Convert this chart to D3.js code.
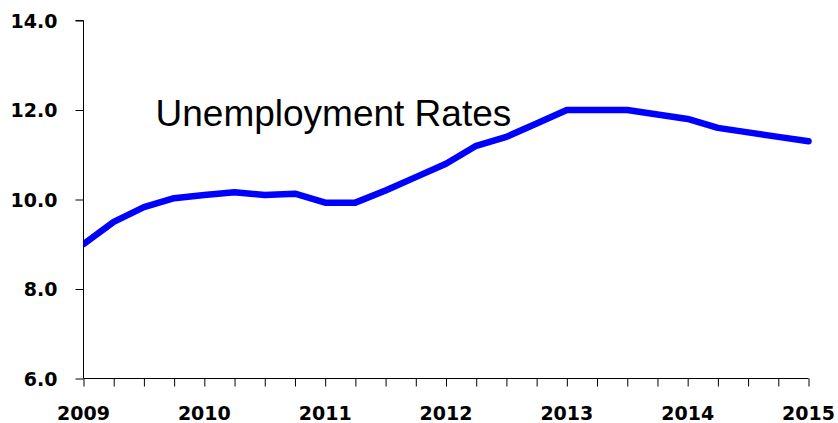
<!DOCTYPE html>
<html><head><meta charset="utf-8">
<script src="https://cdn.jsdelivr.net/npm/d3@7"></script>
<style>html,body{margin:0;padding:0;background:#fff;}svg{display:block;}</style>
</head><body>
<script>
const title = "Unemployment Rates";
const quarters = d3.range(25).map(i => 2009 + i / 4);
const rates = [9.0, 9.5, 9.83, 10.03, 10.1, 10.16, 10.1, 10.13, 9.93, 9.93, 10.2, 10.5,
               10.8, 11.2, 11.4, 11.7, 12.0, 12.0, 12.0, 11.9, 11.8, 11.6, 11.5, 11.4, 11.3];
const yTicks = [6, 8, 10, 12, 14];
const xYears = [2009, 2010, 2011, 2012, 2013, 2014, 2015];

const W = 838, H = 423;
const svg = d3.select("body").append("svg").attr("width", W).attr("height", H);
const x = d3.scaleLinear().domain([2009, 2015]).range([83.5, 808.5]);
const y = d3.scaleLinear().domain([6, 14]).range([378.5, 20.5]);

const lblFont = "'DejaVu Sans', sans-serif";

svg.append("defs").append("clipPath").attr("id", "clipL")
  .append("rect").attr("x", x(2009)).attr("y", 0).attr("width", W).attr("height", H);

// Y axis
const yAxis = svg.append("g").attr("transform", `translate(${x(2009)},0)`)
  .call(d3.axisLeft(y).tickValues(yTicks).tickFormat(d3.format(".1f")).tickSize(8).tickPadding(18));
yAxis.select(".domain").attr("d", `M-8,${y(14)}H0V${y(6)}`).attr("stroke", "#000");
yAxis.selectAll("text").attr("font-family", lblFont).attr("font-weight", "bold")
  .attr("font-size", "19px").attr("fill", "#000").attr("dy", "0.36em");
yAxis.selectAll("line").attr("stroke", "#000");

// X axis with quarterly ticks
const xAxis = svg.append("g").attr("transform", `translate(0,${y(6)})`)
  .call(d3.axisBottom(x).tickValues(quarters).tickSize(8).tickFormat(() => ""));
xAxis.select(".domain").attr("d", `M${x(2009)},0H${x(2015)}`).attr("stroke", "#000");
xAxis.selectAll("line").attr("stroke", "#000");
svg.append("g").selectAll("text").data(xYears).join("text")
  .attr("x", d => x(d)).attr("y", 420)
  .attr("text-anchor", "middle")
  .attr("font-family", lblFont).attr("font-weight", "bold").attr("font-size", "19px")
  .attr("fill", "#000").text(d => d);

// Line
const line = d3.line().x((d, i) => x(quarters[i])).y(d => y(d));
svg.append("path").datum(rates).attr("d", line).attr("clip-path", "url(#clipL)")
  .attr("fill", "none").attr("stroke", "#0000FF").attr("stroke-width", 6.5)
  .attr("stroke-linejoin", "round").attr("stroke-linecap", "round");

// Title
svg.append("text").attr("x", 155.5).attr("y", 126)
  .attr("font-family", "'Liberation Sans', Arial, sans-serif").attr("font-size", "37px")
  .attr("fill", "#000").text(title);
</script>
</body></html>
